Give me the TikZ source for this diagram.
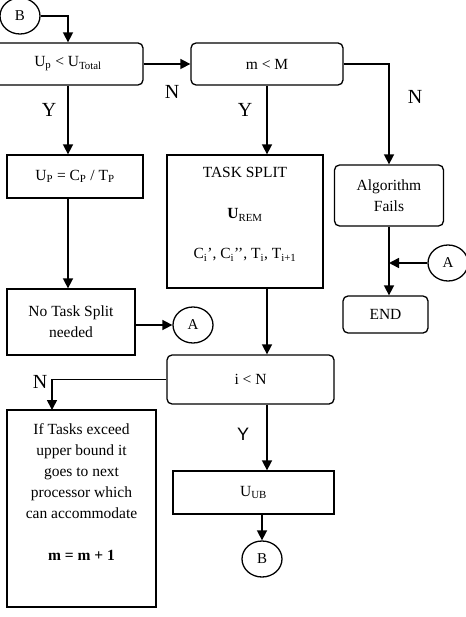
\documentclass[tikz,border=0pt]{standalone}
\usepackage{fontspec}
\setmainfont{Liberation Serif}
\newfontfamily\labelsans{Liberation Sans}
\usetikzlibrary{shapes.geometric,arrows.meta}
\begin{document}
\begin{tikzpicture}[x=1pt,y=-1pt,
  box/.style={draw, line width=1.3pt, inner sep=0pt, align=center,
    font=\fontsize{15.5}{21}\selectfont},
  rbox/.style={box, rounded corners=5pt},
  conn/.style={ellipse, draw, line width=1.3pt, inner sep=0pt,
    minimum width=40pt, minimum height=36pt, font=\fontsize{15}{18}\selectfont},
  txt/.style={inner sep=0pt, align=center, font=\fontsize{15.5}{21}\selectfont},
  arr/.style={line width=1.6pt, -{Triangle[length=10pt,width=10pt]}},
  lbl/.style={inner sep=0pt, font=\fontsize{20}{20}\selectfont},
  lbls/.style={inner sep=0pt, font=\labelsans\fontsize{18}{18}\selectfont}]
\useasboundingbox (0,0) rectangle (465,617);
% nodes
\node[conn] (b1) at (20,16) {B};
\node[rbox, minimum width=150pt, minimum height=42pt] (c1) at (68,64) {U\textsubscript{p} < U\textsubscript{Total}};
\node[rbox, minimum width=152pt, minimum height=42pt] (c2) at (267,64) {m < M};
\node[box, minimum width=136pt, minimum height=43pt] (p1) at (75,176.5) {U\textsubscript{P} = C\textsubscript{P} / T\textsubscript{P}};
\node[box, minimum width=128pt, minimum height=66pt] (ns) at (71,322) {No Task Split\\needed};
\node[conn] (a1) at (193,325) {A};
\node[box, minimum width=156pt, minimum height=133pt] (ts) at (245,221.5) {};
\node[txt] (ts1) at (245,172) {TASK SPLIT};
\node[txt] (ts2) at (245,215) {\textbf{U}\textsubscript{REM}};
\node[txt] (ts3) at (245,255) {C\textsubscript{i}’, C\textsubscript{i}’’, T\textsubscript{i}, T\textsubscript{i+1}};
\node[rbox, minimum width=109pt, minimum height=61pt] (af) at (389,195.5) {Algorithm\\Fails};
\node[rbox, minimum width=85pt, minimum height=37pt] (en) at (385.5,314.5) {END};
\node[conn] (a2) at (448,263) {A};
\node[rbox, minimum width=167pt, minimum height=49pt] (c3) at (250.5,379.5) {i < N};
\node[box, minimum width=149pt, minimum height=197pt] (nx) at (81.5,508.5) {};
\node[txt] (nx1) at (81.5,471) {If Tasks exceed\\upper bound it\\goes to next\\processor which\\can accommodate};
\node[txt] (nx2) at (81.5,555) {\textbf{m = m + 1}};
\node[box, minimum width=161pt, minimum height=43pt] (ub) at (253.5,492.5) {U\textsubscript{UB}};
\node[conn] (b2) at (262,559) {B};
\coordinate (nxin) at (52,410);
% labels
\node[lbl] (n1) at (172,92) {N};
\node[lbl] (y1) at (49,110) {Y};
\node[lbl] (y2) at (245,110) {Y};
\node[lbl] (n2) at (415,97) {N};
\node[lbl] (n3) at (40,382) {N};
\node[lbls] (y3) at (243,434) {Y};
% connectors
\draw[arr] (b1.east) -- (b1.east -| c1.north) -- (c1.north);
\draw[arr] (c1.east) -- (c2.west);
\draw[arr] (c1.south) -- (p1.north -| c1.south);
\draw[arr] (p1.south -| c1.south) -- (ns.north -| c1.south);
\draw[arr] (ns.east |- a1.west) -- (a1.west);
\draw[arr] (c2.south) -- (ts.north -| c2.south);
\draw[arr] (c2.east) -| (af.north);
\draw[arr] (af.south) -- (en.north -| af.south);
\draw[arr] (a2.west) -- (a2.west -| af.south);
\draw[arr] (ts.south -| c2.south) -- (c3.north -| c2.south);
\draw[arr] (c3.west) -| (nxin);
\draw[arr] (c3.south -| c2.south) -- (ub.north -| c2.south);
\draw[arr] (ub.south -| b2.north) -- (b2.north);
\end{tikzpicture}
\end{document}
